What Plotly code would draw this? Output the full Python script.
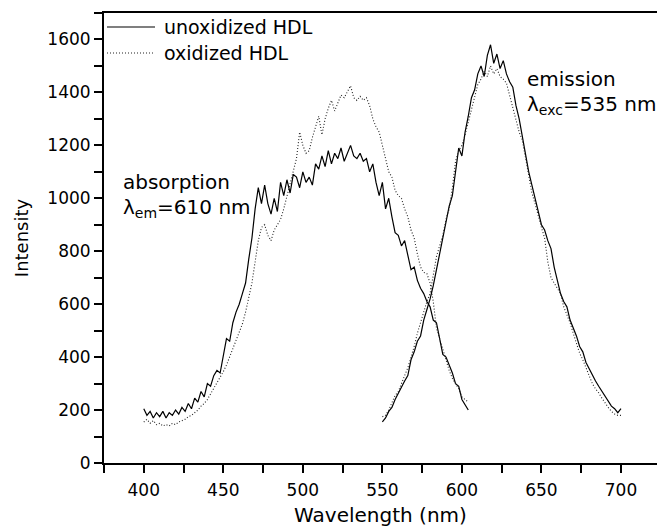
import plotly.graph_objects as go

# ---------------- data ----------------
abs_wl = list(range(400, 605, 2))
abs_unox = [205, 180, 195, 170, 190, 175, 195, 170, 190, 180,
            200, 185, 210, 195, 225, 205, 245, 230, 270, 250,
            300, 290, 330, 350, 340, 410, 470, 460, 530, 570,
            600, 640, 680, 770, 850, 960, 1040, 980, 1050, 980,
            940, 1000, 950, 1060, 1010, 1070, 1020, 1090, 1080, 1040,
            1100, 1060, 1080, 1050, 1130, 1110, 1160, 1120, 1180, 1130,
            1170, 1150, 1190, 1140, 1170, 1200, 1160, 1150, 1170, 1140,
            1150, 1100, 1130, 1060, 1010, 1060, 960, 1000, 930, 870,
            860, 820, 840, 790, 730, 740, 690, 660, 640, 610,
            590, 540, 530, 470, 410, 400, 370, 340, 300, 290,
            240, 220, 200]
abs_ox = [155, 165, 150, 160, 145, 150, 140, 145, 140, 150,
          145, 155, 160, 165, 175, 180, 190, 200, 215, 225,
          240, 260, 280, 300, 320, 345, 370, 400, 430, 460,
          490, 525, 570, 620, 680, 760, 840, 890, 900, 860,
          840, 880, 900, 920, 960, 1010, 1050, 1100, 1150, 1250,
          1200, 1170, 1180, 1230, 1270, 1310, 1240, 1300, 1340, 1370,
          1330, 1360, 1390, 1380, 1400, 1425, 1380, 1370, 1385, 1370,
          1380, 1350, 1300, 1270, 1250, 1200, 1160, 1100, 1080, 1030,
          1010, 1000, 960, 930, 880, 850, 790, 740, 720, 715,
          680, 610, 510, 470, 430, 390, 350, 320, 300, 280,
          250, 240, 230]

em_wl = list(range(550, 701, 2))
em_unox = [155, 170, 195, 210, 240, 265, 290, 310, 330, 390,
           420, 460, 480, 540, 580, 620, 670, 730, 790, 840,
           900, 970, 1010, 1110, 1190, 1160, 1250, 1310, 1380, 1410,
           1470, 1500, 1460, 1540, 1580, 1510, 1545, 1490, 1520, 1470,
           1440, 1420, 1350, 1300, 1230, 1170, 1100, 1050, 1000, 960,
           900, 880, 840, 810, 740, 690, 640, 610, 590, 540,
           510, 480, 440, 420, 380, 355, 330, 310, 290, 270,
           250, 230, 215, 205, 190, 205]
em_ox = [175, 180, 200, 225, 255, 270, 300, 330, 360, 400,
         440, 490, 530, 570, 610, 640, 710, 780, 820, 860,
         920, 960, 1040, 1140, 1180, 1200, 1240, 1290, 1340, 1380,
         1430, 1450, 1480, 1460, 1500, 1470, 1490, 1460, 1450, 1435,
         1390, 1350, 1300, 1250, 1220, 1150, 1080, 1020, 980, 930,
         890, 850, 760, 700, 680, 660, 640, 590, 560, 530,
         490, 450, 415, 390, 360, 330, 300, 280, 265, 245,
         225, 210, 195, 185, 180, 180]

series_names = ["unoxidized HDL", "oxidized HDL"]

FONT = "DejaVu Sans"

fig = go.Figure()
solid = dict(color="black", width=1.2)
dotted = dict(color="#222222", width=1.1, dash="1px,2px")

fig.add_trace(go.Scatter(x=abs_wl, y=abs_unox, mode="lines", line=solid, showlegend=False))
fig.add_trace(go.Scatter(x=abs_wl, y=abs_ox, mode="lines", line=dotted, showlegend=False))
fig.add_trace(go.Scatter(x=em_wl, y=em_unox, mode="lines", line=solid, showlegend=False))
fig.add_trace(go.Scatter(x=em_wl, y=em_ox, mode="lines", line=dotted, showlegend=False))

W, H = 657, 529
L, T, B, R = 104, 13, 66, 0
pw = W - L - R
ph = H - T - B

def px(xp):
    return (xp - L) / pw

def py(yp):
    return (H - B - yp) / ph

# manual legend
for i, (name, ln) in enumerate(zip(series_names, [solid, dotted])):
    yy = [27, 53][i]
    fig.add_shape(type="line", xref="paper", yref="paper",
                  x0=px(107), x1=px(155), y0=py(yy), y1=py(yy),
                  line=ln)
    fig.add_annotation(xref="paper", yref="paper", x=px(162), y=py(yy),
                       text=name, showarrow=False, xanchor="left", yanchor="middle",
                       font=dict(family=FONT, size=19, color="black"))

fig.add_annotation(xref="paper", yref="paper", x=px(121), y=py(182),
                   text="absorption", showarrow=False,
                   xanchor="left", yanchor="middle",
                   font=dict(family=FONT, size=20, color="black"))
fig.add_annotation(xref="paper", yref="paper", x=px(121), y=py(208),
                   text="λ<sub>em</sub>=610 nm", showarrow=False,
                   xanchor="left", yanchor="middle",
                   font=dict(family=FONT, size=20, color="black"))
fig.add_annotation(xref="paper", yref="paper", x=px(525), y=py(79),
                   text="emission", showarrow=False,
                   xanchor="left", yanchor="middle",
                   font=dict(family=FONT, size=20, color="black"))
fig.add_annotation(xref="paper", yref="paper", x=px(525), y=py(105),
                   text="λ<sub>exc</sub>=535 nm", showarrow=False,
                   xanchor="left", yanchor="middle",
                   font=dict(family=FONT, size=20, color="black"))

axis_common = dict(showgrid=False, zeroline=False, showline=True,
                   linecolor="black", linewidth=2, ticks="outside",
                   ticklen=8, tickwidth=1.5, tickcolor="black",
                   tickfont=dict(family=FONT, size=17, color="black"))

fig.update_xaxes(range=[375, 375 + pw / 1.5907], tickmode="linear",
                 tick0=400, dtick=50, mirror=True, ticklabelstandoff=3,
                 title=dict(text="Wavelength (nm)", standoff=9,
                            font=dict(family=FONT, size=20, color="black")),
                 automargin=False,
                 minor=dict(tick0=375, dtick=25, ticks="outside", ticklen=8,
                            tickwidth=1.5, tickcolor="black", showgrid=False),
                 **axis_common)
fig.update_yaxes(range=[0, 1700], tickmode="linear", tick0=0, dtick=200,
                 title=dict(text="Intensity", standoff=14,
                            font=dict(family=FONT, size=18, color="black")),
                 automargin=False,
                 minor=dict(tick0=0, dtick=100, ticks="outside", ticklen=8,
                            tickwidth=1.5, tickcolor="black", showgrid=False),
                 **axis_common)

fig.update_layout(width=W, height=H, margin=dict(l=L, r=R, t=T, b=B),
                  plot_bgcolor="white", paper_bgcolor="white",
                  font=dict(family=FONT, color="black"))

fig.write_html("out.html")
